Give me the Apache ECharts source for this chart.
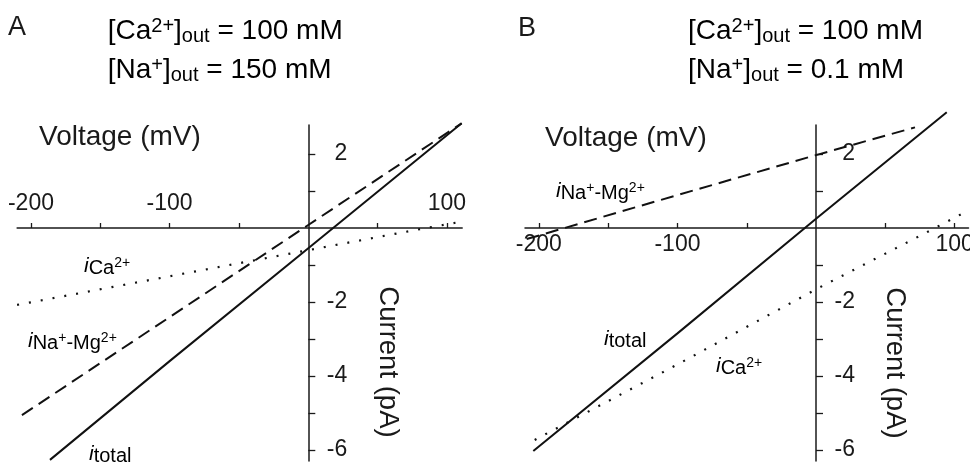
<!DOCTYPE html>
<html>
<head>
<meta charset="utf-8">
<script src="https://cdn.jsdelivr.net/npm/echarts@6/dist/echarts.min.js"></script>
<style>
html, body { margin: 0; padding: 0; background: #fff; }
#chart { width: 970px; height: 464px; }
</style>
</head>
<body>
<div id="chart"></div>
<script>
// A: [Ca2+]out = 100 mM, [Na+]out = 150 mM
var vTotalA = [-186.3, -100, 0, 110.6];
var iTotalA = [-6.27, -3.6, -0.55, 2.83];
var vNaA = [-206.5, -100, 0, 110.6];
var iNaA = [-5.06, -2.41, 0.08, 2.83];
var vCaA = [-210, -102, 0, 85, 110.6];
var iCaA = [-2.08, -1.32, -0.6, 0, 0.17];

// B: [Ca2+]out = 100 mM, [Na+]out = 0.1 mM
var vTotalB = [-204, -100, 0, 94.3];
var iTotalB = [-6.03, -2.85, 0.25, 3.13];
var vNaB = [-208.8, -100, 0, 71.4];
var iNaB = [-0.3, 0.89, 1.97, 2.72];
var vCaB = [-203, -100, 1.4, 78.7, 109.7];
var iCaB = [-5.73, -3.69, -1.63, -0.14, 0.47];

// ticks / labels
var xTicks = [-200, -150, -100, -50, 50, 100];
var xLabels = [-200, -100, 100];
var yTicks = [-6, -5, -4, -3, -2, -1, 1, 2];
var yLabels = [-6, -4, -2, 2];

var ink = '#1a1a1a';
var font = 'Liberation Sans, Arial, Helvetica, sans-serif';

function zip(xs, ys) {
    return xs.map(function (x, i) { return [x, ys[i]]; });
}

// x axis drawn through y = 0 by shifting it into the grid with a negative offset
function xAxisOf(idx, max, pos, offset) {
    var above = pos === 'top';
    return {
        type: 'value', gridIndex: idx, min: -210, max: max,
        position: pos, offset: offset,
        axisLine: { onZero: false, lineStyle: { color: ink, width: 1.5 } },
        axisTick: { inside: !above, length: 5, customValues: xTicks, lineStyle: { color: ink, width: 1.3 } },
        axisLabel: {
            margin: above ? 13 : 5, customValues: xLabels,
            color: ink, fontSize: 23, fontFamily: font
        },
        splitLine: { show: false }
    };
}

function yAxisOf(idx, offset) {
    return {
        type: 'value', gridIndex: idx, min: -6.3, max: 2.784,
        position: 'right', offset: offset,
        axisLine: { onZero: false, lineStyle: { color: ink, width: 1.5 } },
        axisTick: { length: 7, customValues: yTicks, lineStyle: { color: ink, width: 1.3 } },
        axisLabel: {
            margin: 39, align: 'right', customValues: yLabels,
            color: ink, fontSize: 23, fontFamily: font
        },
        splitLine: { show: false }
    };
}

function curve(idx, xs, ys, type) {
    var dash = type === 'dashed' ? [13, 7] : (type === 'dotted' ? [2, 10] : 'solid');
    return {
        type: 'line', xAxisIndex: idx, yAxisIndex: idx,
        data: zip(xs, ys), symbol: 'none', clip: false, silent: true,
        lineStyle: { color: '#111', width: type === 'dotted' ? 2.2 : 2, type: dash }
    };
}

// rich text pieces
var headRich = {
    m: { fontSize: 28, lineHeight: 30, fontFamily: font, color: ink },
    sp: { fontSize: 20, lineHeight: 20, verticalAlign: 'top', fontFamily: font, color: ink },
    sb: { fontSize: 20, lineHeight: 10.6, verticalAlign: 'bottom', fontFamily: font, color: ink }
};
var curveRich = {
    i: { fontSize: 21, lineHeight: 7.2, fontStyle: 'italic', verticalAlign: 'top', fontFamily: font, color: ink },
    b: { fontSize: 20, lineHeight: 24, fontFamily: font, color: ink },
    s: { fontSize: 14, lineHeight: 10.1, verticalAlign: 'top', fontFamily: font, color: ink }
};

function txt(x, y, text, rich) {
    return { type: 'text', x: x, y: y, silent: true,
        style: { text: text, rich: rich, align: 'left', verticalAlign: 'top' } };
}
function plain(x, y, text, size, extra) {
    var el = { type: 'text', x: x, y: y, silent: true,
        style: { text: text, fill: ink, fontSize: size, fontFamily: font, align: 'left', verticalAlign: 'middle' } };
    if (extra) {
        for (var k in extra) {
            if (k === 'rotation') el.rotation = extra[k]; else el.style[k] = extra[k];
        }
    }
    return el;
}

var caHead = '{m|[Ca}{sp|2+}{m|]}{sb|out}{m| = 100 mM}';
var naHeadA = '{m|[Na}{sp|+}{m|]}{sb|out}{m| = 150 mM}';
var naHeadB = '{m|[Na}{sp|+}{m|]}{sb|out}{m| = 0.1 mM}';
var lblCa = '{i|i}{b|Ca}{s|2+}';
var lblNa = '{i|i}{b|Na}{s|+}{b|-Mg}{s|2+}';
var lblTotal = '{i|i}{b|total}';

var myChart = echarts.init(document.getElementById('chart'), null, { renderer: 'canvas' });
var option = {
    animation: false,
    backgroundColor: '#fff',
    grid: [
        { left: 17.1, top: 125, width: 445.1, height: 336, outerBoundsMode: 'none' },
        { left: 525, top: 125, width: 443.5, height: 336, outerBoundsMode: 'none' }
    ],
    xAxis: [xAxisOf(0, 111, 'top', -103), xAxisOf(1, 110, 'bottom', -233)],
    yAxis: [yAxisOf(0, -153.9), yAxisOf(1, -152.5)],
    series: [
        curve(0, vTotalA, iTotalA, 'solid'),
        curve(0, vNaA, iNaA, 'dashed'),
        curve(0, vCaA, iCaA, 'dotted'),
        curve(1, vTotalB, iTotalB, 'solid'),
        curve(1, vNaB, iNaB, 'dashed'),
        curve(1, vCaB, iCaB, 'dotted')
    ],
    graphic: [
        plain(8, 28, 'A', 27),
        plain(518, 28.5, 'B', 27),
        txt(107.7, 16, caHead, headRich),
        txt(107.7, 55, naHeadA, headRich),
        txt(688, 16, caHead, headRich),
        txt(688, 55, naHeadB, headRich),
        plain(39, 137, 'Voltage (mV)', 28),
        plain(545, 138, 'Voltage (mV)', 28),
        plain(388, 362, 'Current (pA)', 27.5, { align: 'center', rotation: -Math.PI / 2 }),
        plain(895, 363, 'Current (pA)', 27.5, { align: 'center', rotation: -Math.PI / 2 }),
        txt(84, 256, lblCa, curveRich),
        txt(28, 331, lblNa, curveRich),
        txt(89, 444, lblTotal, curveRich),
        txt(556, 181, lblNa, curveRich),
        txt(604, 329, lblTotal, curveRich),
        txt(716, 356, lblCa, curveRich)
    ]
};
myChart.setOption(option);
window.addEventListener('resize', function () { myChart.resize(); });
</script>
</body>
</html>
